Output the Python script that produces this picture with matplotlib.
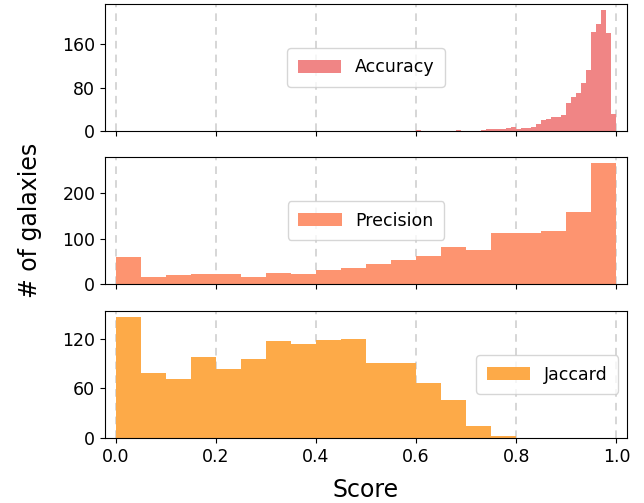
import numpy as np
import matplotlib
matplotlib.use('Agg')
import matplotlib.pyplot as plt

# accuracy: 100 bins of 0.01 on [0, 1]; only the non-empty part is listed
acc_start = 0.60
acc_counts = [2, 0, 0, 0, 0, 0, 0, 0, 2, 0,
              0, 0, 0, 2, 3, 3, 4, 4, 5, 7,
              3, 6, 6, 8, 13, 20, 23, 25, 26, 29,
              52, 63, 70, 88, 113, 182, 197, 223, 180, 32]

# precision and jaccard: 20 bins of 0.05 on [0, 1]
prec_counts = [59, 16, 20, 23, 23, 16, 25, 23, 31, 36,
               44, 53, 62, 82, 75, 113, 112, 116, 159, 267]
jac_counts = [146, 79, 71, 98, 83, 95, 117, 113, 118, 120,
              91, 90, 66, 46, 15, 3, 0, 0, 0, 0]

labels = ['Accuracy', 'Precision', 'Jaccard']
colors = ['#F08585', '#FD9470', '#FDAA48']
yticks = [[0, 80, 160], [0, 100, 200], [0, 60, 120]]
leg_loc = ['center', 'center', 'center right']

acc_edges = acc_start + 0.01 * np.arange(len(acc_counts))
coarse_edges = 0.05 * np.arange(20)

fig = plt.figure(figsize=(6.44, 5.03), dpi=100)
H = 503.0
W = 644.0
left = 105 / W
width = (627 - 105) / W
tops = [4, 157, 311]
ph = 127

axes = []
for i in range(3):
    ax = fig.add_axes([left, 1 - (tops[i] + ph) / H, width, ph / H])
    axes.append(ax)

data = [(acc_edges, acc_counts, 0.01),
        (coarse_edges, prec_counts, 0.05),
        (coarse_edges, jac_counts, 0.05)]

for i, ax in enumerate(axes):
    edges, counts, w = data[i]
    ax.bar(edges, counts, width=w, align='edge', color=colors[i],
           linewidth=0, label=labels[i], zorder=2)
    ax.set_xlim(-0.021, 1.021)
    ax.set_yticks(yticks[i])
    ax.set_xticks([0, 0.2, 0.4, 0.6, 0.8, 1.0])
    ax.grid(axis='x', linestyle=(0, (5, 4)), color='#cccccc', linewidth=1.1, zorder=0)
    ax.set_axisbelow(True)
    ax.tick_params(labelsize=12.5)
    ax.legend(loc=leg_loc[i], fontsize=12.5, handlelength=2.5, borderpad=0.6)
    if i < 2:
        ax.tick_params(labelbottom=False)

axes[2].set_xticklabels(['0.0', '0.2', '0.4', '0.6', '0.8', '1.0'])
fig.text(366 / W, 1 - 490 / H, 'Score', ha='center', va='center', fontsize=17)
fig.text(30 / W, 1 - 220 / H, '# of galaxies', ha='center', va='center',
         rotation=90, fontsize=17)

fig.savefig('out.png', dpi=100)
